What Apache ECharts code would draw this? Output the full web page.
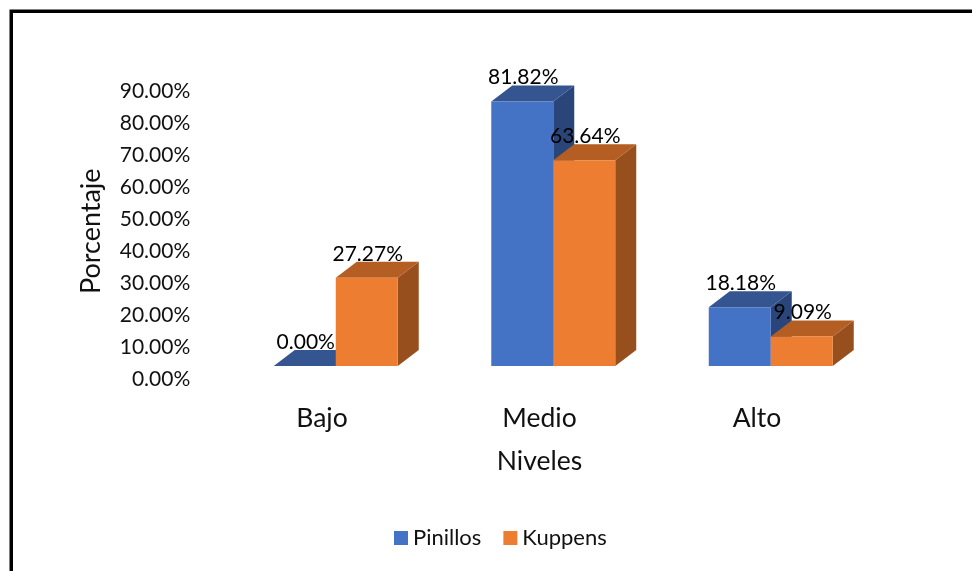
<!DOCTYPE html>
<html>
<head>
<meta charset="utf-8">
<style>html,body{margin:0;padding:0;background:#fff}#c{width:972px;height:571px}</style>
<script src="https://cdn.jsdelivr.net/npm/echarts@6/dist/echarts.min.js"></script>
</head>
<body>
<div id="c"></div>
<script>
const categories = ['Bajo', 'Medio', 'Alto'];
const pinillos = [0.00, 81.82, 18.18];
const kuppens = [27.27, 63.64, 9.09];
const seriesNames = ['Pinillos', 'Kuppens'];
const yMax = 90;
const yStep = 10;
const FONT = 'Lato';
const TEXT = '#111';
const DX = 21, DY = 16;

function bar3d(side, front, topc, sidec) {
  return function (params, api) {
    const i = api.value(0);
    const v = api.value(1);
    const base = api.coord([i, 0]);
    const top = api.coord([i, v]);
    const w = api.size([1, 0])[0] * 0.285;
    const x = base[0] + side * w;
    const y0 = base[1], y1 = top[1];
    return {
      type: 'group',
      children: [
        { type: 'polygon', shape: { points: [[x + w, y1], [x + w + DX, y1 - DY], [x + w + DX, y0 - DY], [x + w, y0]] }, style: { fill: sidec } },
        { type: 'polygon', shape: { points: [[x, y1], [x + DX, y1 - DY], [x + w + DX, y1 - DY], [x + w, y1]] }, style: { fill: topc } },
        { type: 'rect', shape: { x: x, y: y1, width: w, height: y0 - y1 }, style: { fill: front } },
        { type: 'text', x: x + w / 2 + 1, y: y1 - 24, z2: 10, style: { text: v.toFixed(2) + '%', fill: '#000', font: '21px ' + FONT, align: 'center', verticalAlign: 'middle' } }
      ]
    };
  };
}

const chart = echarts.init(document.getElementById('c'), null, { renderer: 'canvas' });
chart.setOption({
  animation: false,
  backgroundColor: '#fff',
  textStyle: { fontFamily: FONT },
  grid: [
    { left: 213.25, top: 91, width: 652.5, height: 288.5 },
    { left: 227, top: 75, width: 652.5, height: 291 }
  ],
  xAxis: [
    {
      type: 'category', gridIndex: 0, data: categories,
      axisLine: { show: false }, axisTick: { show: false }, splitLine: { show: false },
      axisLabel: { color: TEXT, fontSize: 26.5, fontFamily: FONT, margin: 25 },
      name: 'Niveles', nameLocation: 'middle', nameGap: 68,
      nameTextStyle: { color: TEXT, fontSize: 26.5, fontFamily: FONT }
    },
    { type: 'category', gridIndex: 1, data: categories, show: false }
  ],
  yAxis: [
    {
      type: 'value', gridIndex: 0, min: 0, max: yMax, interval: yStep,
      axisLine: { show: false }, axisTick: { show: false }, splitLine: { show: false },
      axisLabel: { color: TEXT, fontSize: 21, fontFamily: FONT, margin: 23, formatter: v => v.toFixed(2) + '%' },
      name: 'Porcentaje', nameLocation: 'middle', nameGap: 108, nameRotate: 90,
      nameTextStyle: { color: TEXT, fontSize: 27, fontFamily: FONT, padding: [0, 0, 0, 8] }
    },
    { type: 'value', gridIndex: 1, min: 0, max: yMax, interval: yStep, show: false, splitLine: { show: false } }
  ],
  legend: {
    left: 389, top: 522, icon: 'rect', itemWidth: 14, itemHeight: 14, itemGap: 22,
    data: seriesNames,
    textStyle: { color: TEXT, fontSize: 22, fontFamily: FONT }
  },
  series: [
    {
      name: seriesNames[0], type: 'custom', xAxisIndex: 1, yAxisIndex: 1,
      itemStyle: { color: '#4472c4' },
      renderItem: bar3d(-1, '#4472c4', '#34558f', '#2a4579'),
      encode: { x: 0, y: 1 },
      data: pinillos.map((v, i) => [i, v])
    },
    {
      name: seriesNames[1], type: 'custom', xAxisIndex: 1, yAxisIndex: 1,
      itemStyle: { color: '#ed7d31' },
      renderItem: bar3d(0, '#ed7d31', '#b55e23', '#97501d'),
      encode: { x: 0, y: 1 },
      data: kuppens.map((v, i) => [i, v])
    }
  ],
  graphic: [{
    type: 'polyline', silent: true,
    shape: { points: [[11.25, 571], [11.25, 11.25], [972, 11.25]] },
    style: { stroke: '#000', lineWidth: 3.5, fill: null }
  }]
});
</script>
</body>
</html>
